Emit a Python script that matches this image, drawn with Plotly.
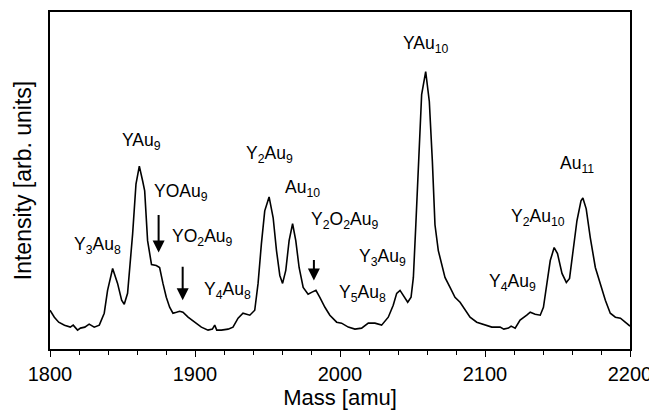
import plotly.graph_objects as go

mass = [1800, 1803, 1806, 1810, 1814, 1816, 1819, 1821, 1824, 1827, 1830.5, 1834, 1837.4, 1839.7,
        1843.2, 1846.6, 1849.4, 1851.2, 1853.5, 1857, 1859.3, 1861.6, 1863.9, 1865.3,
        1867.3, 1868.7, 1870, 1873.3, 1875.6, 1877.9, 1880.2, 1882.5, 1884.8, 1887.2,
        1889.4, 1891.7, 1895.2, 1899.8, 1904.4, 1909, 1912, 1913.6, 1915, 1918.2, 1922.8, 1926.2,
        1929.7, 1933.1, 1937.8, 1941.2, 1943.5, 1945.8, 1948.1, 1951.1, 1953.9, 1956.2,
        1958.5, 1960.4, 1962.6, 1964.9, 1967.3, 1969.5, 1971.8, 1974.6, 1978, 1980.4,
        1983.4, 1986.1, 1989.6, 1993, 1997.7, 2001.1, 2005.7, 2010.3, 2014.9, 2019.5,
        2024.1, 2028.7, 2033.3, 2036.7, 2039.1, 2041.4, 2043.6, 2046.7, 2049, 2050.6,
        2052.2, 2054, 2056.3, 2059.1, 2061.6, 2063.7, 2065.5, 2067.8, 2070.1, 2072.4,
        2075.9, 2079.3, 2082.8, 2086.3, 2089.7, 2094.3, 2098.9, 2104.7, 2110.4, 2113, 2116.2,
        2118, 2120.8, 2124.2, 2128.8, 2131.2, 2134.6, 2138.1, 2140.3, 2142.7, 2145, 2147.7,
        2150, 2153.1, 2156.1, 2158.3, 2160.7, 2163.4, 2166.2, 2167.5, 2169.8, 2172.6,
        2176.1, 2179.5, 2183, 2186.4, 2189.9, 2193.4, 2196.8, 2200]

intensity = [39, 32, 27, 24, 22, 24, 19, 21, 22, 25, 22, 24, 36, 59,
             81, 66, 49, 45, 56, 116, 166, 184, 169, 159,
             109, 94, 85, 84, 82, 66, 52, 42, 36, 37,
             38, 37, 32, 27, 22, 19, 20, 24, 19, 19, 20, 22,
             31, 36, 34, 39, 66, 106, 139, 153, 132, 99,
             74, 66, 79, 109, 126, 109, 82, 62, 55, 57,
             59, 52, 42, 34, 27, 26, 22, 20, 21, 26,
             26, 24, 32, 44, 56, 59, 54, 47, 52, 72,
             122, 189, 256, 279, 249, 189, 125, 99, 84, 72,
             62, 52, 47, 39, 32, 27, 25, 22, 22, 20, 21,
             23, 21, 29, 34, 37, 35, 34, 42, 66, 89, 102,
             96, 76, 67, 71, 99, 129, 149, 152, 141, 112,
             82, 66, 49, 36, 32, 31, 27, 23]

peak_labels = ["Y<sub>3</sub>Au<sub>8</sub>", "YAu<sub>9</sub>", "YOAu<sub>9</sub>",
               "YO<sub>2</sub>Au<sub>9</sub>", "Y<sub>4</sub>Au<sub>8</sub>",
               "Y<sub>2</sub>Au<sub>9</sub>", "Au<sub>10</sub>",
               "Y<sub>2</sub>O<sub>2</sub>Au<sub>9</sub>", "Y<sub>5</sub>Au<sub>8</sub>",
               "Y<sub>3</sub>Au<sub>9</sub>", "YAu<sub>10</sub>",
               "Y<sub>4</sub>Au<sub>9</sub>", "Y<sub>2</sub>Au<sub>10</sub>", "Au<sub>11</sub>"]
label_mass = [1832.8, 1863.2, 1890.1, 1905.3, 1922.6, 1951.6, 1974.4, 2003.4, 2015.8,
              2029.6, 2059.3, 2118.7, 2136.7, 2163.6]
label_int = [104, 209, 157, 112, 59, 196, 161, 129, 56, 92, 306, 67, 132, 186]

arrow_mass = [1874.9, 1891.5, 1982]
arrow_tip = [97, 49, 69]
arrow_len = [39, 35, 22]

fig = go.Figure()
fig.add_trace(go.Scatter(x=mass, y=intensity, mode="lines",
                         line=dict(color="black", width=1.6), showlegend=False))

for t, xm, yi in zip(peak_labels, label_mass, label_int):
    fig.add_annotation(x=xm, y=yi, text=t, showarrow=False,
                       font=dict(family="Liberation Sans, Arial", size=17.5, color="black"))

for xm, yt, ln in zip(arrow_mass, arrow_tip, arrow_len):
    fig.add_annotation(x=xm, y=yt, ax=0, ay=-ln, text="", showarrow=True,
                       arrowhead=2, arrowsize=1.2, arrowwidth=2, arrowcolor="black")

fig.update_layout(
    width=649, height=405,
    margin=dict(l=42, r=27, t=2, b=64),
    paper_bgcolor="white", plot_bgcolor="white",
    font=dict(family="Liberation Sans, Arial", color="black"),
    xaxis=dict(range=[1800, 2200], tickvals=[1800, 1900, 2000, 2100, 2200],
               ticks="outside", ticklen=6, tickwidth=1.3, tickcolor="black",
               minor=dict(dtick=20, ticks="outside", ticklen=4, tickwidth=1.3, tickcolor="black"),
               showline=True, linecolor="black", linewidth=1.5, mirror=True,
               showgrid=False, zeroline=False,
               tickfont=dict(size=20),
               title=dict(text="Mass [amu]", font=dict(size=22), standoff=6)),
    yaxis=dict(range=[0, 339], showticklabels=False, ticks="",
               showline=True, linecolor="black", linewidth=1.5, mirror=True,
               showgrid=False, zeroline=False,
               title=dict(text="Intensity [arb. units]", font=dict(size=23), standoff=10)),
)

fig.write_html("out.html")
